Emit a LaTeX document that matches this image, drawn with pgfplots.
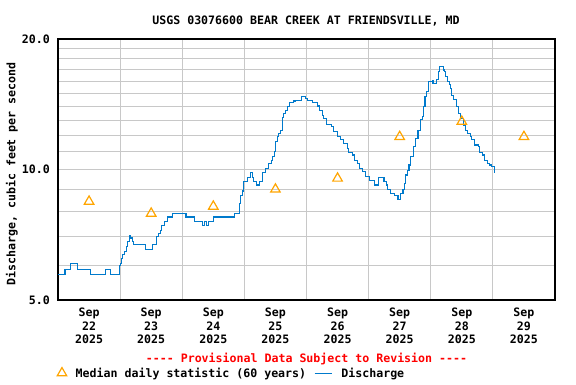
\documentclass[border=0pt]{standalone}
\usepackage{fontspec}
\setmainfont{DejaVu Sans Mono}[Ligatures=NoCommon]
\setmonofont{DejaVu Sans Mono}
\usepackage{pgfplots}
\pgfplotsset{compat=1.18}
\usepackage{pgfplotstable}
\definecolor{qblue}{RGB}{0,122,204}
\definecolor{qorange}{RGB}{255,165,0}
\definecolor{qgrid}{RGB}{200,200,200}

% time in days from Sep 22 00:00, discharge in cfs
\pgfplotstableread{
t v
0.000 5.73
0.113 5.88
0.205 6.07
0.311 5.88
0.516 5.73
0.769 5.88
0.850 5.73
0.984 6.00
1.000 6.07
1.016 6.24
1.043 6.38
1.065 6.46
1.097 6.64
1.118 6.81
1.150 7.03
1.173 6.95
1.194 6.81
1.215 6.72
1.415 6.55
1.521 6.72
1.592 7.00
1.618 7.12
1.645 7.25
1.673 7.41
1.715 7.60
1.758 7.77
1.844 7.92
2.060 7.77
2.198 7.60
2.323 7.43
2.355 7.60
2.387 7.43
2.419 7.60
2.505 7.77
2.844 7.92
2.915 8.36
2.935 8.70
2.963 8.92
2.989 9.37
3.044 9.60
3.097 9.85
3.124 9.60
3.150 9.37
3.189 9.21
3.247 9.37
3.285 9.85
3.339 10.07
3.392 10.30
3.431 10.50
3.456 10.74
3.489 11.00
3.500 11.59
3.527 11.90
3.553 12.12
3.581 12.29
3.608 12.90
3.618 13.19
3.634 13.47
3.661 13.71
3.689 13.96
3.731 14.26
3.785 14.39
3.823 14.44
3.903 14.44
3.915 14.77
3.968 14.77
3.984 14.60
4.011 14.44
4.092 14.44
4.102 14.30
4.145 14.26
4.182 14.01
4.215 13.71
4.253 13.35
4.279 13.10
4.323 12.71
4.398 12.57
4.440 12.22
4.495 11.94
4.548 11.70
4.602 11.49
4.656 11.19
4.682 10.93
4.737 10.80
4.774 10.50
4.818 10.30
4.860 10.07
4.898 9.88
4.952 9.63
5.021 9.41
5.097 9.21
5.150 9.21
5.166 9.60
5.231 9.60
5.247 9.37
5.285 9.21
5.311 9.00
5.355 8.81
5.419 8.69
5.473 8.54
5.516 8.81
5.553 9.00
5.581 9.28
5.597 9.71
5.624 9.97
5.650 10.24
5.677 10.70
5.721 11.29
5.758 11.80
5.795 12.33
5.839 13.01
5.866 13.25
5.882 13.96
5.908 14.72
5.935 15.12
5.963 15.94
6.027 16.03
6.037 15.80
6.081 15.80
6.097 16.14
6.118 16.81
6.134 17.27
6.189 17.27
6.198 16.96
6.215 16.81
6.231 16.37
6.269 15.94
6.295 15.67
6.323 15.39
6.334 14.85
6.366 14.47
6.387 14.47
6.419 13.96
6.440 13.47
6.484 13.12
6.527 12.66
6.565 12.33
6.592 12.12
6.634 11.90
6.656 11.70
6.698 11.39
6.763 11.29
6.779 10.93
6.834 10.80
6.871 10.50
6.915 10.34
6.940 10.24
6.979 10.16
7.021 9.97
7.022 9.82
}\discharge

\pgfplotstableread{
t v
0.5 8.44
1.5 7.92
2.5 8.22
3.5 9.00
4.5 9.54
5.5 11.90
6.5 12.90
7.5 11.90
}\median

\begin{document}
\begin{tikzpicture}[font=\fontsize{11.6pt}{13.3pt}\selectfont\bfseries]
\begin{axis}[
  at={(0pt,0pt)}, anchor=south west,
  scale only axis, width=497pt, height=261pt,
  xmin=0, xmax=8,
  ymode=log, ymin=5, ymax=20,
  /pgf/number format/assume math mode=true,
  xtick={0.5,1.5,2.5,3.5,4.5,5.5,6.5,7.5},
  xticklabels={{Sep\\22\\2025},{Sep\\23\\2025},{Sep\\24\\2025},{Sep\\25\\2025},{Sep\\26\\2025},{Sep\\27\\2025},{Sep\\28\\2025},{Sep\\29\\2025}},
  xticklabel style={align=center, inner sep=0pt, anchor=north, yshift=-8pt},
  minor xtick={1,2,3,4,5,6,7},
  xminorgrids,
  ytick={5,10,20},
  yticklabels={5.0,10.0,20.0},
  yticklabel style={inner sep=0pt, anchor=east, xshift=-8pt},
  minor ytick={6,7,8,9,11,12,13,14,15,16,17,18,19},
  ymajorgrids, yminorgrids,
  major tick length=0pt, minor tick length=0pt,
  grid style={qgrid, line width=1pt},
  minor grid style={qgrid, line width=1pt},
  axis line style={black, line width=1.2pt},
  title={USGS 03076600 BEAR CREEK AT FRIENDSVILLE, MD},
  title style={at={(axis description cs:0.499,1.0766)}, anchor=center, inner sep=0pt, yshift=-8pt},
  ylabel={Discharge, cubic feet per second},
  ylabel style={at={(axis description cs:-0.0926,0.483)}, anchor=center, inner sep=0pt},
  legend columns=2,
  legend style={draw=none, fill=none, at={(axis description cs:-0.002,-0.28)}, anchor=west,
    inner sep=0pt,
    /tikz/every odd column/.append style={column sep=7pt},
    /tikz/every even column/.append style={column sep=6pt}},
  legend cell align=left,
  clip=false,
]
\addplot[only marks, mark=triangle, mark size=5.5pt, mark options={qorange, line width=1.2pt}] table[x=t, y=v] {\median};
\addlegendentry{Median daily statistic (60 years)}
\addplot[const plot, qblue, line width=1.1pt] table[x=t, y=v] {\discharge};
\addlegendentry{Discharge}
\node[red, anchor=center, inner sep=0pt] at (axis description cs:0.5,-0.226) {-{}-{}-{}- Provisional Data Subject to Revision -{}-{}-{}-};
\end{axis}
\pgfresetboundingbox
\path[use as bounding box] (-58pt,-84pt) rectangle (518pt,300pt);
\end{tikzpicture}
\end{document}
